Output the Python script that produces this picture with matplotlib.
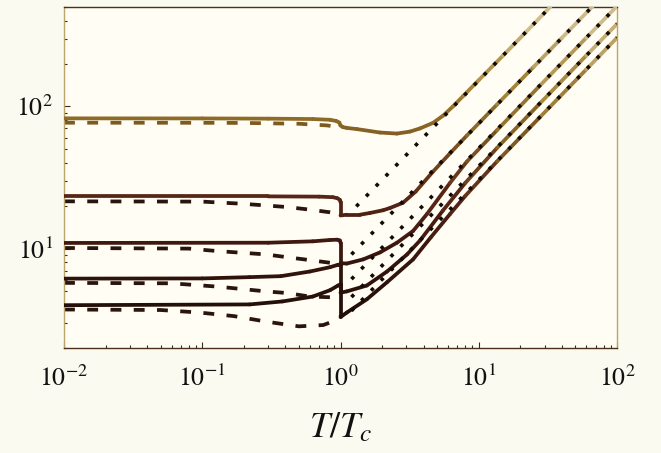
import numpy as np
import matplotlib.pyplot as plt
from matplotlib.collections import LineCollection
from matplotlib.colors import LinearSegmentedColormap, Normalize
from matplotlib.ticker import LogLocator, NullFormatter

plt.rcParams['font.family'] = 'STIXGeneral'
plt.rcParams['mathtext.fontset'] = 'stix'

# full curves (solid), x = T/Tc
s1_x = [0.01, 0.1, 0.3, 0.63, 0.84, 0.93, 0.98, 1.0, 1.04, 1.11, 1.32, 1.93, 2.56, 3.18, 3.76, 4.67, 5.51, 6.51, 7.69, 10, 15, 22, 33]
s1_y = [82.4, 82.3, 82.0, 81.5, 80.5, 79.0, 77.0, 73.5, 71.5, 70.6, 69.2, 65.5, 64.4, 66.5, 70.0, 76.6, 86, 100, 118, 153, 228, 334, 502]
s2_x = [0.01, 0.3, 0.7, 0.88, 0.95, 0.99, 1.0, 1.0, 1.11, 1.38, 1.63, 2.03, 2.28, 2.83, 3.5, 4.67, 6.2, 8.22, 13.55, 25, 40, 67]
s2_y = [23.3, 23.3, 23.2, 23.0, 22.6, 22.0, 21.2, 17.1, 17.3, 17.3, 17.8, 18.6, 19.3, 21.0, 25.2, 34.8, 46.8, 62.5, 103, 190, 304, 508]
s3_x = [0.01, 0.3, 0.63, 0.84, 0.95, 0.99, 1.0, 1.0, 1.11, 1.46, 1.93, 2.56, 3.35, 4.22, 6.2, 8.22, 13.55, 27.7, 60, 99]
s3_y = [10.96, 11.0, 11.25, 11.5, 11.55, 11.4, 11.0, 7.9, 7.85, 8.4, 9.4, 11.0, 13.3, 17.5, 29, 41, 68, 140, 304, 502]
s4_x = [0.01, 0.1, 0.22, 0.37, 0.6, 0.84, 0.96, 1.0, 1.0, 1.11, 1.55, 2.17, 3.03, 3.76, 5.5, 8.0, 13.55, 27.7, 60, 100]
s4_y = [6.15, 6.17, 6.3, 6.4, 6.9, 7.4, 7.7, 7.7, 4.9, 5.0, 5.5, 6.9, 9.1, 11.4, 18.5, 29, 51, 105, 228, 380]
s5_x = [0.01, 0.22, 0.38, 0.63, 0.84, 0.96, 1.0, 1.0, 1.11, 1.55, 2.17, 3.35, 4.5, 6.2, 8.0, 13.55, 27.7, 60, 100]
s5_y = [4.0, 4.05, 4.25, 4.6, 5.1, 5.5, 5.6, 3.3, 3.55, 4.4, 5.8, 8.4, 12, 17.5, 23.5, 41, 84, 182, 304]

# approximate curves (dashed), below Tc
d1_x = [0.01, 0.1, 0.2, 0.5, 0.8, 0.96, 1.0]
d1_y = [76.8, 76.7, 76.5, 75.5, 73.5, 71.5, 71.0]
d2_x = [0.01, 0.1, 0.19, 0.29, 0.41, 0.6, 0.84, 1.0]
d2_y = [21.5, 21.4, 20.7, 20.1, 19.6, 18.8, 18.0, 17.3]
d3_x = [0.01, 0.08, 0.13, 0.29, 0.41, 0.6, 0.84, 1.0]
d3_y = [10.1, 10.0, 9.6, 9.1, 8.7, 8.3, 7.95, 7.85]
d4_x = [0.01, 0.06, 0.13, 0.29, 0.41, 0.6, 0.84, 1.0]
d4_y = [5.74, 5.7, 5.4, 5.0, 4.87, 4.6, 4.55, 4.6]
d5_x = [0.01, 0.05, 0.096, 0.17, 0.3, 0.5, 0.75, 0.9, 1.0]
d5_y = [3.73, 3.7, 3.55, 3.35, 3.05, 2.84, 2.9, 3.1, 3.35]

# high temperature asymptotes (dotted): start and end points
a_x0 = [1.3, 1.2, 1.2, 1.2, 1.2]
a_y0 = [19.8, 9.1, 6.1, 4.56, 3.65]
a_x1 = [33, 67, 99, 100, 100]
a_y1 = [502, 509, 502, 380, 304]

solid = [(s1_x, s1_y), (s2_x, s2_y), (s3_x, s3_y), (s4_x, s4_y), (s5_x, s5_y)]
dashed = [(d1_x, d1_y), (d2_x, d2_y), (d3_x, d3_y), (d4_x, d4_y), (d5_x, d5_y)]
dash_colors = ['#7d5a1e', '#2a150c', '#2a150c', '#2a150c', '#2a150c']

# colour of the full curves goes with height (log y)
stops = [(0.0, '#1a0c08'), (0.125, '#231009'), (0.29, '#3c160e'),
         (0.445, '#582616'), (0.54, '#6e411e'), (0.665, '#8c6926'),
         (0.79, '#a88a42'), (0.895, '#c2ab70'), (1.0, '#d6c69c')]
cmap = LinearSegmentedColormap.from_list('brass', stops)
norm = Normalize(np.log10(2), np.log10(500))

fig = plt.figure(figsize=(6.61, 4.53), dpi=100, facecolor='#fbfaf0')
ax = fig.add_axes([64 / 661, 105 / 453, 553 / 661, 341 / 453])
ax.set_facecolor('#fffdf4')
ax.set_xscale('log')
ax.set_yscale('log')
ax.set_xlim(0.01, 100)
ax.set_ylim(2, 500)

for (x, y), c in zip(dashed, dash_colors):
    ax.plot(x, y, color=c, lw=2.7, linestyle=(0, (2.9, 3.3)),
            dash_capstyle='butt', zorder=2)

for x, y in solid:
    pts = np.column_stack([x, y])
    segs = np.stack([pts[:-1], pts[1:]], axis=1)
    ymid = np.sqrt(np.array(y[:-1]) * np.array(y[1:]))
    lc = LineCollection(segs, colors=cmap(norm(np.log10(ymid))), linewidths=2.7,
                        capstyle='round', joinstyle='round', zorder=3)
    ax.add_collection(lc)

for i in range(5):
    ax.plot([a_x0[i], a_x1[i]], [a_y0[i], a_y1[i]], color='#120a05', lw=2.6,
            linestyle=(0, (1.0, 2.9)), dash_capstyle='butt', zorder=4)

for side in ['left', 'right']:
    ax.spines[side].set_color('#bda46a')
for side in ['top', 'bottom']:
    ax.spines[side].set_color('#4a3018')
for sp in ax.spines.values():
    sp.set_linewidth(1.0)

ax.xaxis.set_major_locator(LogLocator(base=10, numticks=10))
ax.xaxis.set_minor_locator(LogLocator(base=10, subs=np.arange(2, 10), numticks=20))
ax.yaxis.set_major_locator(LogLocator(base=10, numticks=10))
ax.yaxis.set_minor_locator(LogLocator(base=10, subs=np.arange(2, 10), numticks=20))
ax.xaxis.set_minor_formatter(NullFormatter())
ax.yaxis.set_minor_formatter(NullFormatter())
ax.tick_params(which='both', direction='in', top=False, right=False,
               color='#3a2a18', width=0.8, labelsize=18.5, labelcolor='#111111')
ax.tick_params(axis='x', which='major', length=4.5, pad=13)
ax.tick_params(axis='y', which='major', length=4.5, pad=8)
ax.tick_params(which='minor', length=2.5)

ax.set_xlabel(r'$T/T_c$', fontsize=26, color='#111111', labelpad=14)

fig.savefig('out.png', dpi=100, facecolor=fig.get_facecolor())
